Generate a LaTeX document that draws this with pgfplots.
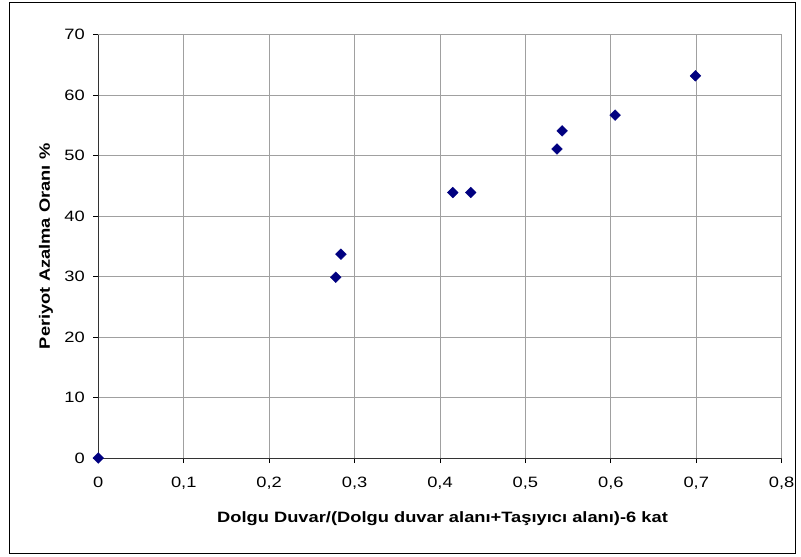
\documentclass[border=0pt]{standalone}
\usepackage{fontspec}
\setmainfont{Liberation Sans}
\newfontfamily\chartfont{Liberation Sans}[FakeStretch=1.22]
\usepackage{pgfplots}
\pgfplotsset{compat=1.18}

\definecolor{marknavy}{HTML}{000080}
\definecolor{gridgray}{HTML}{A0A0A0}

\begin{document}
\begin{tikzpicture}[x=1pt,y=1pt]
\useasboundingbox (-98.3,-99) rectangle (702.7,458);
\begin{axis}[
  at={(0,0)}, anchor=south west,
  scale only axis, width=683.4pt, height=423.3pt,
  xmin=0, xmax=0.8, ymin=0, ymax=70,
  xtick={0,0.1,0.2,0.3,0.4,0.5,0.6,0.7,0.8},
  xticklabels={0,{0,1},{0,2},{0,3},{0,4},{0,5},{0,6},{0,7},{0,8}},
  ytick={0,10,20,30,40,50,60,70},
  axis x line*=bottom, axis y line*=left,
  axis line style={black!80, line width=1pt, -},
  grid=major,
  major grid style={gridgray, line width=0.9pt},
  tick align=outside, major tick length=5pt,
  tick style={black, line width=0.8pt},
  /pgf/number format/assume math mode=true,
  ticklabel style={font=\chartfont\fontsize{15}{17}\selectfont},
  xticklabel style={yshift=-10pt},
  yticklabel style={xshift=-5pt},
  clip=false,
  xlabel={Dolgu Duvar/(Dolgu duvar alanı+Taşıyıcı alanı)-6 kat},
  ylabel={Periyot Azalma Oranı \%},
  label style={font=\chartfont\bfseries\fontsize{15}{17}\selectfont},
  xlabel style={at={(axis description cs:0.5037,-0.1512)}, anchor=base},
  ylabel style={at={(axis description cs:-0.0707,0.5)}, anchor=base},
]
\addplot[only marks, mark=square*, mark size=3.8pt,
  mark options={fill=marknavy, draw=marknavy, rotate=45}]
  coordinates {
    (0,0)
    (0.278,29.9)
    (0.284,33.7)
    (0.415,43.9)
    (0.436,43.9)
    (0.537,51.1)
    (0.543,54.1)
    (0.605,56.7)
    (0.699,63.2)
  };
\end{axis}
\draw[black, line width=1pt] (-88.3,-95) rectangle (696.7,455);
\end{tikzpicture}
\end{document}
